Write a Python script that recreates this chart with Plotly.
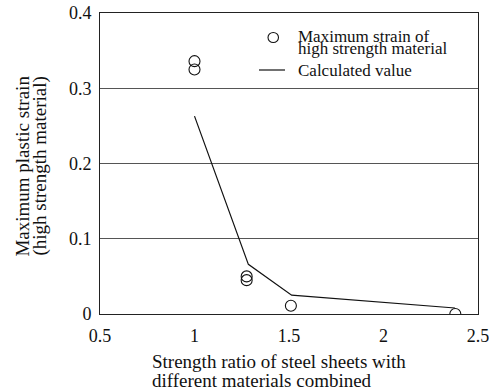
import plotly.graph_objects as go

# Data
meas_x = [1.0, 1.0, 1.276, 1.276, 1.51, 2.38]
meas_y = [0.336, 0.325, 0.050, 0.045, 0.011, 0.0]
calc_x = [1.0, 1.285, 1.514, 2.378]
calc_y = [0.263, 0.066, 0.025, 0.008]

x_ticks = [0.5, 1, 1.5, 2, 2.5]
x_tick_labels = ["0.5", "1", "1.5", "2", "2.5"]
y_ticks = [0, 0.1, 0.2, 0.3, 0.4]
y_tick_labels = ["0", "0.1", "0.2", "0.3", "0.4"]

legend_labels = ["Maximum strain of", "high strength material", "Calculated value"]

FONT = "Liberation Serif"
TXT = "#111111"
INK = "#111111"

W, H = 489, 392
ml, mr, mt, mb = 100, 11, 13, 78
pw, ph = W - ml - mr, H - mt - mb


def px_x(px):
    return (px - ml) / pw


def px_y(py):
    return (H - mb - py) / ph


fig = go.Figure()
fig.add_trace(go.Scatter(
    x=meas_x, y=meas_y, mode="markers",
    name="Maximum strain of high strength material",
    marker=dict(symbol="circle-open", size=11, color=INK, line=dict(width=1.1)),
    cliponaxis=True, showlegend=False,
))
fig.add_trace(go.Scatter(
    x=calc_x, y=calc_y, mode="lines", name="Calculated value",
    line=dict(color=INK, width=1.2), showlegend=False,
))

axis_common = dict(
    zeroline=False, showline=True, mirror=True, linecolor="#222222", linewidth=1,
    ticks="", automargin=False, ticklabeloverflow="allow",
    tickfont=dict(family=FONT, size=18, color=TXT),
)

fig.update_layout(
    width=W, height=H,
    margin=dict(l=ml, r=mr, t=mt, b=mb, autoexpand=False),
    paper_bgcolor="white", plot_bgcolor="white",
    font=dict(family=FONT, color=TXT, size=18),
    showlegend=False,
    xaxis=dict(range=[0.5, 2.5], tickvals=x_ticks, ticktext=x_tick_labels,
               showgrid=False, ticklabelstandoff=5, **axis_common),
    yaxis=dict(range=[0, 0.4], tickvals=y_ticks, ticktext=y_tick_labels,
               showgrid=True, gridcolor="#555555", gridwidth=1,
               ticklabelstandoff=4, **axis_common),
)


def text_at(text, left_px, baseline_px, size):
    # place a single line of text by its left edge and baseline
    fig.add_annotation(text=text, xref="paper", yref="paper",
                       x=px_x(left_px), y=px_y(baseline_px - 0.3375 * size),
                       xanchor="left", yanchor="middle", showarrow=False,
                       font=dict(family=FONT, size=size, color=TXT))


# x axis title (two left-aligned lines, tight spacing)
text_at("Strength ratio of steel sheets with", 150, 368, 19)
text_at("different materials combined", 150, 387, 19)

# y axis title (two rotated lines)
for label, base_x in [("Maximum plastic strain", 28), ("(high strength material)", 46)]:
    fig.add_annotation(text=label, xref="paper", yref="paper",
                       x=px_x(base_x - 0.3375 * 19), y=px_y(166),
                       xanchor="center", yanchor="middle", textangle=-90, showarrow=False,
                       font=dict(family=FONT, size=19, color=TXT))

# legend
LEG = 17
text_at(legend_labels[0], 296, 42, LEG)
text_at(legend_labels[1], 296, 54.5, LEG)
text_at(legend_labels[2], 296, 76, LEG)
fig.add_shape(type="circle", xref="paper", yref="paper",
              x0=px_x(268), x1=px_x(278.5), y0=px_y(42.5), y1=px_y(32.5),
              line=dict(color=INK, width=1.1), fillcolor="rgba(0,0,0,0)")
fig.add_shape(type="line", xref="paper", yref="paper",
              x0=px_x(259), x1=px_x(285), y0=px_y(70), y1=px_y(70),
              line=dict(color=INK, width=1.2))

fig.write_html("out.html")
